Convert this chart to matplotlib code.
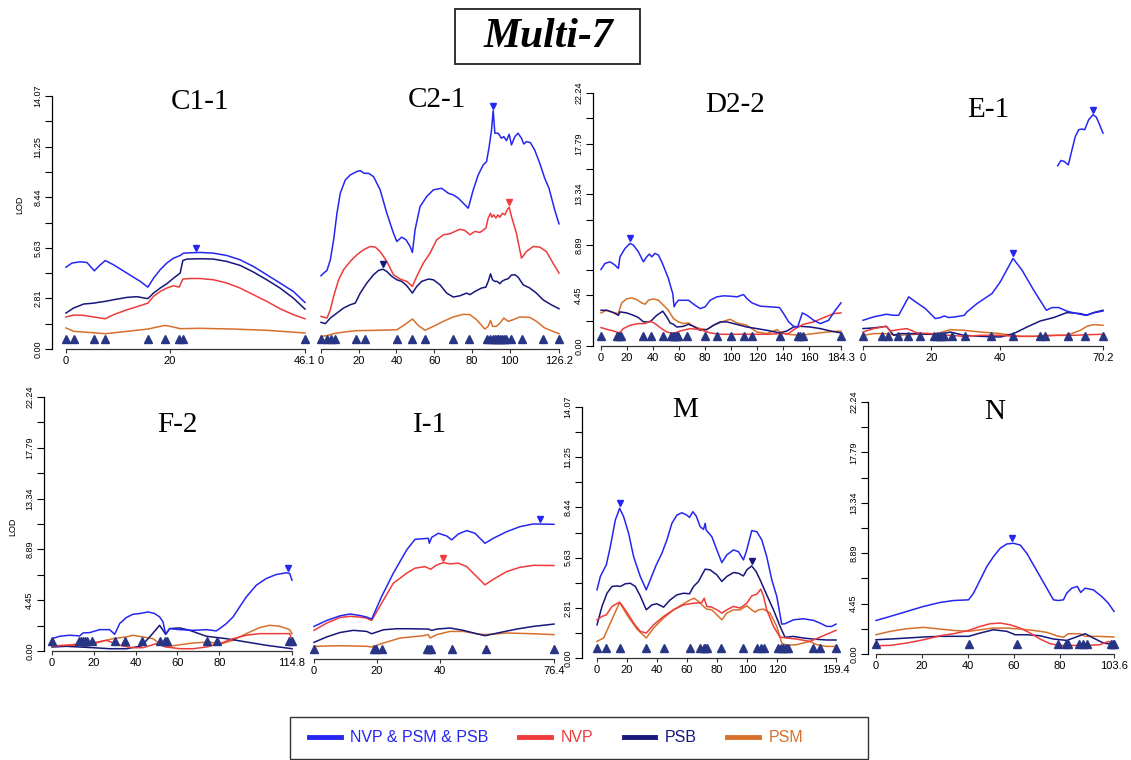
import numpy as np
import matplotlib.pyplot as plt
import matplotlib.transforms as mtransforms
from matplotlib.lines import Line2D
from matplotlib.patches import Rectangle

plt.rcParams["font.family"] = ["Liberation Sans", "DejaVu Sans"]

W, H = 1131, 760

# colours of the four models
colors = {"all": "#2626f2", "nvp": "#ef3b3b", "psb": "#16167c", "psm": "#d6702b"}
marker_color = "#283584"
legend_labels = {"all": "NVP & PSM & PSB", "nvp": "NVP", "psb": "PSB", "psm": "PSM"}

lod14_ticks = [0.00, 2.81, 5.63, 8.44, 11.25, 14.07]
lod22_ticks = [0.00, 4.45, 8.89, 13.34, 17.79, 22.24]

# ---------------- C1-1 ----------------
c11_all = [(0, 4.55), (1.16, 4.78), (2.76, 4.85), (4.05, 4.81), (5.46, 4.35), (6.61, 4.68),
           (7.58, 4.92), (9.18, 4.68), (11.75, 4.22), (14.32, 3.76), (15.79, 3.44), (16.89, 3.94),
           (18.17, 4.41), (19.45, 4.78), (20.74, 5.05), (22.02, 5.20), (22.66, 5.33), (23.95, 5.35),
           (25.87, 5.37), (28.44, 5.33), (31.01, 5.20), (33.58, 4.96), (36.15, 4.59), (38.72, 4.13),
           (41.28, 3.67), (43.85, 3.20), (46.1, 2.59)]
c11_nvp = [(0, 1.78), (1.48, 1.89), (3.40, 1.87), (5.33, 1.78), (7.58, 1.68), (9.18, 1.91),
           (11.75, 2.18), (14.32, 2.41), (15.79, 2.55), (16.89, 2.93), (18.17, 3.20), (19.45, 3.39),
           (20.74, 3.52), (21.83, 3.44), (22.54, 3.89), (23.95, 3.92), (25.87, 3.92), (28.44, 3.85),
           (31.01, 3.67), (33.58, 3.39), (36.15, 3.02), (38.72, 2.65), (41.28, 2.24), (43.85, 1.91),
           (46.1, 1.68)]
c11_psb = [(0, 2.00), (1.48, 2.28), (3.40, 2.50), (5.33, 2.55), (6.61, 2.61), (7.58, 2.65),
           (9.18, 2.74), (11.75, 2.87), (13.67, 2.91), (15.79, 2.80), (16.89, 3.11), (18.17, 3.39),
           (19.45, 3.63), (20.74, 3.94), (22.02, 4.22), (22.54, 4.92), (23.31, 5.00), (25.87, 5.02),
           (28.44, 5.00), (31.01, 4.87), (33.58, 4.65), (36.15, 4.28), (38.72, 3.85), (41.28, 3.39),
           (43.85, 2.83), (46.1, 2.22)]
c11_psm = [(0, 1.17), (1.48, 0.98), (4.05, 0.93), (7.58, 0.85), (11.75, 0.98), (15.79, 1.11),
           (17.53, 1.22), (19.13, 1.31), (20.74, 1.22), (22.02, 1.13), (25.87, 1.15), (32.29, 1.11),
           (38.72, 1.04), (46.1, 0.89)]
c11_markers = [0, 1.6, 5.39, 7.51, 15.79, 19.07, 21.89, 22.66, 46.1]
c11_peaks = [(25.1, "all")]

# ---------------- C2-1 ----------------
c21_all = [(0, 4.07), (1.41, 4.22), (3.17, 4.37), (4.94, 4.96), (6.70, 6.07), (8.46, 7.55),
           (10.22, 8.66), (12.87, 9.40), (15.51, 9.68), (19.04, 9.87), (20.80, 9.92), (22.91, 9.77),
           (25.20, 9.77), (27.85, 9.59), (31.37, 8.85), (34.90, 7.55), (38.42, 6.44), (40.19, 5.98),
           (42.83, 6.22), (45.12, 6.07), (47.24, 5.70), (48.47, 5.37), (49.88, 6.63), (52.53, 7.92),
           (56.05, 8.48), (59.58, 8.85), (63.98, 8.94), (67.51, 8.66), (70.15, 8.57), (72.80, 8.39),
           (75.44, 8.11), (78.08, 7.83), (80.73, 8.85), (83.37, 9.68), (86.02, 10.24), (87.78, 10.42),
           (89.19, 11.26), (90.42, 12.18), (91.30, 13.26), (92.19, 12.00), (93.95, 12.00),
           (95.72, 11.72), (96.94, 11.81), (98.35, 11.59), (99.76, 11.94), (101.0, 11.35),
           (102.8, 11.81), (104.5, 12.00), (106.3, 11.72), (107.5, 11.40), (108.9, 11.53),
           (111.0, 11.48), (113.3, 11.07), (116.0, 10.33), (118.6, 9.50), (120.9, 8.94),
           (123.9, 7.74), (126.2, 6.96)]
c21_nvp = [(0, 1.81), (3.17, 1.72), (4.94, 2.18), (6.70, 2.93), (9.34, 3.85), (11.99, 4.41),
           (15.51, 4.87), (19.04, 5.24), (22.56, 5.52), (26.09, 5.70), (28.73, 5.67), (31.37, 5.42),
           (34.90, 4.87), (38.42, 4.13), (41.95, 3.89), (45.47, 3.76), (48.47, 3.48), (50.76, 4.04),
           (54.29, 4.78), (57.81, 5.33), (61.34, 6.07), (64.86, 6.35), (68.39, 6.41), (71.03, 6.54),
           (73.68, 6.66), (76.32, 6.59), (78.96, 6.35), (81.61, 6.54), (84.25, 6.48), (87.42, 6.72),
           (88.66, 7.28), (89.89, 7.55), (90.60, 7.33), (91.66, 7.46), (92.71, 7.28), (93.77, 7.46),
           (94.83, 7.33), (96.24, 7.55), (97.47, 7.46), (98.71, 7.74), (99.76, 7.89), (101.0, 7.37),
           (103.6, 6.44), (106.3, 5.05), (108.9, 5.42), (112.5, 5.70), (116.0, 5.67), (119.5, 5.42),
           (123.0, 4.78), (126.2, 4.22)]
c21_psb = [(0, 1.48), (2.29, 1.41), (4.94, 1.72), (8.46, 2.00), (11.99, 2.28), (15.51, 2.46),
           (18.15, 2.55), (20.80, 3.11), (24.32, 3.67), (27.85, 4.13), (30.49, 4.37), (32.78, 4.44),
           (34.90, 4.31), (37.54, 4.04), (40.19, 3.85), (42.83, 3.76), (45.47, 3.52), (48.47, 3.11),
           (50.76, 3.48), (53.41, 3.76), (56.93, 3.89), (59.58, 3.85), (63.10, 3.57), (66.63, 3.11),
           (70.15, 2.89), (73.68, 2.96), (77.20, 3.11), (78.96, 3.02), (81.61, 3.20), (85.13, 3.39),
           (87.42, 3.44), (88.66, 3.76), (89.89, 4.18), (90.95, 3.85), (92.19, 3.76), (93.42, 3.76),
           (94.83, 3.63), (95.89, 3.76), (97.47, 3.85), (99.23, 3.91), (101.0, 4.11), (102.8, 4.13),
           (104.5, 4.00), (107.2, 3.57), (110.7, 3.39), (114.2, 3.11), (117.7, 2.74), (122.1, 2.46),
           (126.2, 2.24)]
c21_psm = [(0, 0.70), (3.17, 0.74), (6.70, 0.85), (11.99, 0.94), (19.04, 1.02), (29.61, 1.04),
           (40.19, 1.07), (43.71, 1.30), (48.47, 1.67), (51.64, 1.30), (55.17, 1.04), (59.58, 1.26),
           (64.86, 1.54), (70.15, 1.78), (75.44, 1.93), (78.96, 1.91), (82.49, 1.63), (86.90, 1.11),
           (88.66, 1.26), (89.89, 1.59), (90.95, 1.26), (93.07, 1.26), (94.83, 1.44), (96.94, 1.72),
           (99.23, 1.54), (101.9, 1.63), (105.4, 1.78), (110.7, 1.76), (114.2, 1.54), (118.6, 1.17),
           (123.0, 0.98), (126.2, 0.85)]
c21_markers = [0, 3.17, 5.29, 7.23, 18.68, 23.09, 40.19, 48.12, 55.17, 69.80, 78.61, 87.78,
               89.54, 90.95, 92.19, 93.07, 93.95, 94.83, 95.72, 96.94, 98.35, 101.0, 106.8,
               117.7, 126.2]
c21_peaks = [(91.3, "all"), (99.76, "nvp"), (32.78, "psb")]

# ---------------- D2-2 ----------------
d22_all = [(0, 6.73), (3.08, 7.26), (6.92, 7.40), (10.77, 7.11), (13.33, 6.82), (14.61, 7.84),
           (18.46, 8.58), (22.30, 9.02), (24.86, 8.87), (28.71, 8.28), (32.55, 7.40), (35.12, 7.84),
           (37.17, 8.08), (38.96, 7.84), (41.53, 8.14), (44.09, 7.99), (46.65, 7.40), (49.22, 6.67),
           (51.78, 5.93), (53.57, 5.20), (55.11, 4.61), (56.14, 3.44), (57.42, 3.73), (59.47, 4.02),
           (63.31, 4.02), (67.16, 4.02), (72.28, 3.58), (76.13, 3.29), (79.97, 3.44), (83.82, 4.02),
           (88.95, 4.32), (94.07, 4.41), (99.20, 4.38), (104.3, 4.32), (109.5, 4.52), (112.0, 4.17),
           (115.9, 3.79), (122.3, 3.50), (130.0, 3.44), (137.1, 3.38), (140.2, 2.85), (144.1, 2.12),
           (147.9, 1.73), (151.0, 1.67), (154.6, 2.91), (158.2, 2.70), (163.3, 2.26), (168.4, 1.97),
           (174.8, 2.26), (179.9, 3.14), (184.3, 3.79)]
d22_nvp = [(0, 1.62), (4.36, 1.47), (9.48, 1.32), (14.10, 1.15), (17.17, 1.53), (22.30, 1.82),
           (28.71, 1.97), (33.84, 1.97), (37.68, 2.20), (41.53, 1.97), (45.37, 1.62), (50.50, 1.23),
           (55.62, 1.09), (60.75, 1.32), (68.44, 1.53), (76.13, 1.44), (83.82, 1.15), (91.51, 1.03),
           (101.8, 1.03), (112.0, 1.03), (127.4, 1.03), (137.6, 1.09), (144.1, 1.09), (149.2, 1.53),
           (155.6, 1.91), (163.3, 2.12), (171.0, 2.50), (178.7, 2.85), (184.3, 2.91)]
d22_psb = [(0, 3.14), (4.36, 3.14), (9.48, 2.94), (13.33, 2.70), (14.61, 3.00), (19.74, 2.91),
           (24.86, 2.70), (28.71, 2.50), (32.55, 2.12), (37.68, 2.12), (42.81, 2.70), (47.42, 3.06),
           (50.50, 2.56), (53.06, 2.03), (55.62, 1.91), (58.19, 1.67), (63.31, 1.73), (67.16, 1.91),
           (71.00, 1.73), (76.13, 1.38), (81.26, 1.44), (86.39, 1.82), (91.51, 2.12), (96.64, 2.12),
           (101.8, 1.97), (106.9, 1.82), (112.0, 1.67), (119.7, 1.53), (127.4, 1.38), (137.1, 1.15),
           (142.8, 1.32), (147.9, 1.67), (153.0, 1.73), (160.7, 1.67), (168.4, 1.53), (176.1, 1.32),
           (184.3, 1.15)]
d22_psm = [(0, 2.91), (4.36, 3.14), (9.48, 2.94), (13.33, 2.85), (15.89, 3.79), (19.74, 4.14),
           (23.58, 4.23), (27.43, 4.08), (31.27, 3.79), (33.84, 3.67), (36.40, 4.02), (40.24, 4.14),
           (44.09, 4.02), (47.94, 3.58), (51.78, 3.14), (55.62, 2.41), (59.47, 2.12), (63.31, 1.97),
           (67.16, 2.03), (71.00, 1.73), (76.13, 1.53), (81.26, 1.44), (86.39, 1.82), (94.07, 2.17),
           (99.20, 2.35), (104.3, 2.03), (112.0, 1.82), (119.7, 1.23), (127.4, 1.09), (135.1, 1.44),
           (137.6, 1.23), (142.8, 1.03), (153.1, 0.94), (163.3, 1.09), (173.6, 1.23), (184.3, 1.32)]
d22_markers = [0, 12.56, 13.84, 15.12, 32.55, 38.19, 47.42, 53.83, 55.62, 56.91, 58.19, 59.47,
               66.39, 80.23, 89.46, 99.71, 109.5, 115.9, 137.6, 151.0, 153.0, 155.1, 184.3]
d22_peaks = [(22.3, "all")]

# ---------------- E-1 ----------------
e1_all = [(0, 2.26), (3.12, 2.56), (6.83, 2.79), (8.97, 2.70), (10.43, 2.70), (13.36, 4.32),
          (15.80, 3.79), (18.23, 3.29), (21.16, 2.41), (22.62, 2.50), (23.79, 2.64), (25.06, 2.50),
          (27.01, 2.56), (29.64, 2.70), (30.42, 3.00), (33.35, 3.73), (37.73, 4.61), (40.17, 5.64),
          (43.88, 7.70), (46.51, 6.67), (49.92, 4.91), (53.63, 3.14), (55.28, 3.38), (57.23, 3.38),
          (59.67, 3.06), (62.60, 2.85), (65.03, 2.70), (67.47, 2.91), (70.2, 3.08)]
e1_all_high = [(56.94, 15.84), (57.92, 16.31), (58.89, 16.22), (60.06, 15.92), (61.13, 17.25),
               (62.11, 18.42), (63.08, 19.01), (64.06, 19.07), (64.84, 19.01), (66.01, 19.89),
               (67.28, 20.33), (68.25, 20.12), (69.22, 19.45), (70.2, 18.71)]
e1_nvp = [(0, 1.23), (3.12, 1.53), (6.83, 1.73), (8.00, 1.32), (10.43, 1.44), (12.87, 1.53),
          (15.80, 1.15), (19.70, 1.09), (22.62, 0.94), (25.55, 0.94), (29.45, 0.85), (34.32, 0.94),
          (40.17, 0.94), (44.07, 0.85), (47.97, 0.85), (51.87, 0.85), (56.74, 0.94), (61.62, 0.94),
          (66.49, 1.00), (70.2, 1.03)]
e1_psb = [(0, 1.53), (3.12, 1.59), (6.83, 1.73), (8.97, 0.94), (10.92, 1.09), (14.82, 1.09),
          (18.72, 1.03), (22.62, 1.03), (25.55, 1.23), (29.45, 0.94), (34.32, 0.85), (40.17, 0.79),
          (44.07, 1.09), (47.97, 1.67), (51.87, 2.20), (55.77, 2.50), (59.67, 2.94), (63.57, 2.85),
          (65.52, 2.70), (67.47, 2.94), (70.2, 3.14)]
e1_psm = [(0, 0.94), (3.12, 1.09), (6.83, 1.09), (9.95, 0.94), (15.80, 1.03), (21.65, 1.09),
          (25.55, 1.44), (29.45, 1.38), (34.32, 1.23), (40.17, 1.09), (46.02, 0.85), (49.92, 0.85),
          (53.82, 0.94), (59.67, 0.94), (63.57, 1.38), (65.52, 1.73), (67.47, 1.88), (70.2, 1.82)]
e1_markers = [0, 5.56, 7.31, 10.14, 13.16, 16.77, 20.87, 21.65, 22.43, 23.21, 23.79, 26.03,
              29.74, 37.44, 43.88, 51.87, 53.33, 59.96, 64.84, 70.2]
e1_peaks = [(43.88, "all"), (67.28, "all")]

# ---------------- F-2 ----------------
f2_all = [(0, 1.08), (3.67, 1.29), (8.45, 1.38), (13.23, 1.32), (14.83, 1.58), (18.02, 1.61),
          (22.80, 1.87), (27.58, 1.87), (29.97, 1.46), (32.37, 2.40), (35.55, 2.93), (38.74, 3.22),
          (41.93, 3.28), (45.92, 3.42), (49.11, 3.28), (51.50, 2.98), (53.09, 2.55), (54.37, 1.46),
          (56.28, 1.96), (61.07, 1.87), (67.44, 1.81), (73.82, 1.87), (78.60, 1.76), (80.20, 1.96),
          (83.39, 2.40), (86.58, 2.98), (89.76, 3.86), (92.95, 4.74), (97.74, 5.76), (102.5, 6.35),
          (107.3, 6.70), (112.1, 6.85), (113.7, 6.79), (114.8, 6.20)]
f2_nvp = [(0, 0.44), (6.86, 0.50), (13.23, 0.50), (18.02, 0.64), (25.99, 0.94), (32.37, 0.50),
          (38.74, 0.29), (43.52, 0.29), (49.91, 0.64), (54.69, 0.35), (61.07, 0.20), (67.44, 0.20),
          (73.82, 0.35), (80.20, 0.64), (86.58, 1.08), (92.95, 1.38), (99.33, 1.52), (105.7, 1.52),
          (113.7, 1.52), (114.8, 0.99)]
f2_psb = [(0, 0.35), (6.86, 0.41), (13.23, 0.35), (19.61, 0.29), (27.58, 0.20), (35.55, 0.20),
          (42.73, 0.44), (46.72, 1.23), (51.50, 2.25), (54.37, 1.46), (56.28, 1.96), (61.07, 2.02),
          (65.85, 1.81), (73.82, 1.29), (83.39, 1.08), (92.95, 0.79), (102.5, 0.50), (114.8, 0.20)]
f2_psm = [(0, 0.44), (6.86, 0.50), (13.23, 0.64), (16.10, 0.35), (18.02, 0.50), (22.80, 0.79),
          (29.18, 1.08), (35.55, 1.23), (38.74, 1.38), (43.52, 1.23), (48.30, 1.08), (51.50, 0.64),
          (54.37, 0.35), (59.48, 0.50), (67.44, 0.70), (75.41, 0.79), (80.20, 0.59), (86.58, 0.94),
          (92.95, 1.52), (99.33, 2.05), (104.1, 2.25), (108.9, 2.17), (113.7, 1.87), (114.8, 1.52)]
f2_markers = [0, 12.76, 14.03, 14.83, 15.94, 16.74, 19.29, 29.97, 34.92, 43.21, 51.50, 54.21,
              55.17, 74.14, 78.92, 113.4, 114.8]
f2_peaks = [(113.0, "all")]

# ---------------- I-1 ----------------
i1_all = [(0, 1.82), (4.03, 2.15), (8.28, 2.41), (11.46, 2.51), (14.64, 2.43), (16.77, 2.34),
          (18.36, 2.23), (21.54, 3.49), (25.25, 4.79), (29.50, 6.09), (32.15, 6.68), (36.40, 6.74),
          (36.71, 6.46), (37.46, 6.79), (39.58, 7.02), (42.23, 6.87), (43.82, 6.65), (45.94, 6.98),
          (48.60, 7.17), (51.25, 7.02), (54.43, 6.46), (57.09, 6.74), (61.33, 7.11), (65.58, 7.39),
          (69.82, 7.54), (76.4, 7.52)]
i1_nvp = [(0, 1.60), (4.03, 2.00), (8.28, 2.32), (11.46, 2.38), (14.64, 2.34), (16.77, 2.28),
          (18.36, 2.15), (21.54, 3.12), (25.25, 4.23), (29.50, 4.79), (32.15, 5.07), (35.34, 5.16),
          (37.14, 5.01), (39.05, 5.25), (41.17, 5.38), (43.29, 5.31), (45.94, 5.35), (48.60, 5.16),
          (51.78, 4.60), (54.43, 4.14), (57.09, 4.45), (61.33, 4.88), (65.58, 5.12), (69.82, 5.23),
          (76.4, 5.22)]
i1_psb = [(0, 0.93), (4.03, 1.23), (8.28, 1.48), (12.52, 1.60), (16.77, 1.54), (18.36, 1.41),
          (22.07, 1.63), (26.31, 1.69), (30.56, 1.69), (36.40, 1.67), (37.46, 1.60), (39.05, 1.67),
          (43.29, 1.73), (47.54, 1.60), (51.78, 1.41), (54.43, 1.30), (59.21, 1.48), (64.51, 1.67),
          (69.82, 1.82), (76.4, 1.95)]
i1_psm = [(0, 0.71), (8.28, 0.74), (16.77, 0.71), (18.36, 0.67), (22.07, 0.89), (27.38, 1.17),
          (34.81, 1.30), (36.40, 1.36), (36.93, 1.17), (39.05, 1.36), (43.29, 1.54), (47.54, 1.54),
          (51.78, 1.41), (54.43, 1.36), (61.33, 1.45), (69.82, 1.41), (76.4, 1.36)]
i1_markers = [0, 19.10, 19.74, 21.54, 36.08, 36.71, 37.14, 43.82, 54.65, 76.4]
i1_peaks = [(40.96, "nvp"), (71.94, "all")]

# ---------------- M ----------------
m_all = [(0, 3.82), (2.22, 4.57), (4.44, 4.94), (6.22, 5.22), (8.88, 6.24), (12.21, 7.73),
         (15.10, 8.39), (17.76, 7.92), (21.09, 6.99), (24.42, 5.68), (28.86, 4.57), (32.86, 3.82),
         (35.52, 4.38), (39.52, 5.22), (43.29, 5.87), (46.62, 6.62), (49.95, 7.55), (53.28, 8.01),
         (56.61, 8.14), (59.94, 8.01), (61.72, 7.88), (63.94, 8.20), (66.16, 7.96), (68.82, 7.36),
         (71.04, 7.21), (72.15, 7.55), (72.82, 7.17), (76.59, 6.80), (79.92, 6.06), (83.25, 5.35),
         (86.58, 5.78), (91.02, 6.06), (94.35, 5.96), (97.68, 5.50), (99.90, 6.06), (103.2, 7.14),
         (106.6, 7.08), (109.9, 6.62), (113.2, 5.68), (116.6, 4.38), (119.9, 3.45), (123.2, 1.90),
         (125.4, 1.92), (131.0, 2.14), (137.6, 2.20), (144.3, 2.11), (148.7, 1.96), (153.2, 1.77),
         (156.5, 1.77), (159.4, 1.90)]
m_nvp = [(0, 2.14), (3.33, 2.33), (6.22, 2.42), (9.99, 2.89), (15.10, 3.13), (18.87, 2.70),
         (24.42, 1.96), (28.86, 1.49), (32.86, 1.40), (37.74, 1.86), (44.40, 2.33), (51.06, 2.70),
         (57.72, 2.98), (64.38, 3.07), (69.93, 3.11), (71.49, 3.35), (73.26, 2.89), (76.59, 2.85),
         (79.92, 2.70), (83.25, 2.52), (86.58, 2.70), (91.02, 2.89), (95.46, 2.80), (99.90, 3.07),
         (103.2, 3.48), (106.6, 3.58), (109.2, 3.86), (111.0, 3.48), (113.2, 2.70), (117.7, 1.77),
         (122.1, 1.17), (126.5, 1.12), (133.2, 1.06), (142.1, 0.93), (151.0, 1.25), (159.4, 1.55)]
m_psb = [(0, 1.86), (3.33, 2.89), (6.66, 3.63), (9.99, 4.01), (13.32, 4.04), (15.54, 4.01),
         (18.87, 4.16), (22.20, 4.19), (25.53, 4.01), (28.86, 3.48), (32.86, 2.70), (36.63, 2.98),
         (39.96, 3.04), (44.40, 2.85), (48.84, 3.26), (53.28, 3.54), (57.72, 3.63), (61.72, 3.60),
         (64.38, 4.01), (67.71, 4.29), (70.60, 4.75), (72.15, 4.98), (75.48, 4.94), (79.92, 4.66),
         (83.25, 4.29), (86.58, 4.57), (91.02, 4.79), (94.35, 4.75), (97.68, 4.60), (99.90, 4.94),
         (103.2, 5.16), (106.1, 4.85), (108.8, 4.38), (113.2, 3.54), (117.7, 2.70), (122.1, 1.77),
         (125.4, 1.16), (131.0, 1.21), (137.6, 1.12), (144.3, 1.06), (153.2, 1.01), (159.4, 1.01)]
m_psm = [(0, 0.93), (4.44, 1.12), (8.88, 1.96), (15.10, 3.11), (19.98, 2.42), (26.64, 1.62),
         (32.86, 1.12), (37.74, 1.68), (44.40, 2.24), (51.06, 2.70), (57.72, 3.04), (62.16, 3.26),
         (64.82, 3.35), (67.71, 3.17), (71.04, 2.89), (73.26, 2.74), (76.59, 2.70), (79.92, 2.42),
         (83.25, 2.14), (86.58, 2.52), (91.02, 2.70), (95.46, 2.70), (99.90, 2.93), (103.2, 2.70),
         (105.5, 2.57), (107.7, 2.70), (111.0, 2.74), (115.4, 2.52), (119.9, 1.77), (123.2, 0.84),
         (126.5, 0.71), (133.2, 0.75), (142.1, 0.93), (146.5, 0.75), (153.2, 0.65), (159.4, 0.65)]
m_markers = [0, 5.99, 15.10, 32.86, 44.40, 61.72, 68.82, 71.04, 72.15, 73.26, 82.59, 97.68,
             107.0, 109.2, 111.4, 121.0, 122.5, 124.3, 126.1, 127.7, 144.3, 148.7, 159.4]
m_peaks = [(15.1, "all"), (103.2, "psb")]

# ---------------- N ----------------
n_all = [(0, 2.96), (6.23, 3.32), (13.48, 3.76), (20.72, 4.20), (27.97, 4.55), (33.76, 4.72),
         (40.28, 4.78), (42.46, 5.37), (45.35, 6.54), (48.25, 7.72), (51.15, 8.60), (54.05, 9.33),
         (56.95, 9.71), (59.84, 9.77), (62.74, 9.62), (65.64, 8.89), (68.54, 7.86), (71.44, 6.84),
         (74.33, 5.81), (77.23, 4.78), (79.40, 4.72), (81.58, 4.78), (83.03, 5.37), (85.20, 5.81),
         (87.66, 5.96), (89.11, 5.43), (91.00, 5.81), (94.62, 5.66), (98.24, 5.08), (101.1, 4.49),
         (103.6, 3.76)]
n_nvp = [(0, 0.73), (6.23, 0.76), (13.48, 0.97), (20.72, 1.26), (27.97, 1.61), (33.76, 1.79),
         (40.28, 2.08), (45.35, 2.44), (49.69, 2.67), (54.05, 2.73), (58.39, 2.58), (62.74, 2.29),
         (67.09, 1.85), (71.44, 1.32), (75.78, 0.91), (80.13, 0.76), (85.93, 0.76), (91.72, 0.76),
         (97.52, 0.82), (101.1, 1.11), (103.6, 0.82)]
n_psb = [(0, 1.26), (6.23, 1.32), (13.48, 1.41), (20.72, 1.50), (27.97, 1.56), (33.76, 1.56),
         (40.28, 1.56), (45.35, 1.85), (51.15, 2.14), (56.95, 2.00), (60.58, 1.70), (65.64, 1.70),
         (71.44, 1.61), (77.23, 1.32), (83.03, 1.20), (85.93, 1.41), (91.00, 1.79), (94.62, 1.41),
         (98.97, 0.97), (103.6, 0.82)]
n_psm = [(0, 1.70), (6.23, 2.00), (13.48, 2.23), (20.72, 2.35), (27.97, 2.20), (33.76, 2.08),
         (40.28, 2.00), (45.35, 2.14), (51.15, 2.29), (56.95, 2.29), (62.74, 2.20), (68.54, 2.08),
         (74.33, 1.91), (78.68, 1.61), (81.58, 1.47), (83.75, 1.79), (88.82, 1.79), (91.00, 1.56),
         (96.07, 1.56), (103.6, 1.50)]
n_markers = [0, 40.28, 61.29, 79.40, 82.74, 83.75, 88.53, 90.27, 91.72, 102.2, 103.3, 103.6]
n_peaks = [(59.4, "all")]

# x ticks of every linkage group
c11_xticks = [0, 20, 46.1]
c21_xticks = [0, 20, 40, 60, 80, 100, 126.2]
d22_xticks = [0, 20, 40, 60, 80, 100, 120, 140, 160, 184.3]
e1_xticks = [0, 20, 40, 70.2]
f2_xticks = [0, 20, 40, 60, 80, 114.8]
i1_xticks = [0, 20, 40, 76.4]
m_xticks = [0, 20, 40, 60, 80, 100, 120, 159.4]
n_xticks = [0, 20, 40, 60, 80, 103.6]

# panel: name, series, markers, peaks, xticks, y scale, pixel box (l, r, top, bottom),
#        y-axis offset in px (None = no axis), title position in px
panels = [
    ("C1-1", {"all": [c11_all], "nvp": [c11_nvp], "psb": [c11_psb], "psm": [c11_psm]},
     c11_markers, c11_peaks, c11_xticks, lod14_ticks, (66, 305, 96, 349), 14, (200, 102)),
    ("C2-1", {"all": [c21_all], "nvp": [c21_nvp], "psb": [c21_psb], "psm": [c21_psm]},
     c21_markers, c21_peaks, c21_xticks, lod14_ticks, (321, 559, 96, 349), None, (437, 100)),
    ("D2-2", {"all": [d22_all], "nvp": [d22_nvp], "psb": [d22_psb], "psm": [d22_psm]},
     d22_markers, d22_peaks, d22_xticks, lod22_ticks, (601, 841, 93, 346), 8, (735, 105)),
    ("E-1", {"all": [e1_all, e1_all_high], "nvp": [e1_nvp], "psb": [e1_psb], "psm": [e1_psm]},
     e1_markers, e1_peaks, e1_xticks, lod22_ticks, (863, 1103, 93, 346), None, (988, 110)),
    ("F-2", {"all": [f2_all], "nvp": [f2_nvp], "psb": [f2_psb], "psm": [f2_psm]},
     f2_markers, f2_peaks, f2_xticks, lod22_ticks, (52, 292, 397, 651), 8, (177, 425)),
    ("I-1", {"all": [i1_all], "nvp": [i1_nvp], "psb": [i1_psb], "psm": [i1_psm]},
     i1_markers, i1_peaks, i1_xticks, lod14_ticks, (314, 554, 407, 659), None, (430, 425)),
    ("M", {"all": [m_all], "nvp": [m_nvp], "psb": [m_psb], "psm": [m_psm]},
     m_markers, m_peaks, m_xticks, lod14_ticks, (597, 836, 407, 658), 15, (685, 410)),
    ("N", {"all": [n_all], "nvp": [n_nvp], "psb": [n_psb], "psm": [n_psm]},
     n_markers, n_peaks, n_xticks, lod22_ticks, (876, 1114, 402, 654), 8, (995, 412)),
]

fig = plt.figure(figsize=(W / 100, H / 100), dpi=100)
peak_shift = mtransforms.ScaledTranslation(0, 5 / 100, fig.dpi_scale_trans)

for name, series, markers, peaks, xticks, yticks, box, yoff, tpos in panels:
    l, r, t, b = box
    ax = fig.add_axes([l / W, 1 - b / H, (r - l) / W, (b - t) / H])
    ax.patch.set_alpha(0)
    ax.set_xlim(0, xticks[-1])
    ax.set_ylim(0, yticks[-1])

    for key in ["psm", "psb", "nvp", "all"]:
        for seg in series[key]:
            arr = np.array(seg)
            ax.plot(arr[:, 0], arr[:, 1], color=colors[key], lw=1.1, clip_on=False)

    ax.plot(markers, np.full(len(markers), 0.04), "^", color=marker_color, ms=5.5,
            transform=ax.get_xaxis_transform(), clip_on=False)

    for px, key in peaks:
        py = max(np.interp(px, *np.array(seg).T) for seg in series[key]
                 if seg[0][0] <= px <= seg[-1][0])
        ax.plot(px, py, "v", color=colors[key], ms=5,
                transform=ax.transData + peak_shift, clip_on=False)

    for s in ["top", "right"]:
        ax.spines[s].set_visible(False)
    ax.spines["bottom"].set_linewidth(0.9)
    ax.spines["bottom"].set_color("#333333")
    ax.set_xticks(xticks)
    ax.set_xticklabels([f"{v:g}" for v in xticks], fontsize=8)
    ax.tick_params(axis="x", length=3, width=0.8, pad=2, color="#333333")

    if yoff is None:
        ax.spines["left"].set_visible(False)
        ax.tick_params(axis="y", which="both", left=False, labelleft=False)
    else:
        ax.spines["left"].set_position(("outward", yoff * 0.72))
        ax.spines["left"].set_linewidth(0.9)
        ax.set_yticks(yticks)
        ax.set_yticklabels([f"{v:.2f}" for v in yticks], rotation=90, va="center", fontsize=6.5)
        mids = [(a + c) / 2 for a, c in zip(yticks[:-1], yticks[1:])]
        ax.set_yticks(mids, minor=True)
        ax.tick_params(axis="y", which="both", length=5, width=0.8, pad=2)

    fig.text(tpos[0] / W, 1 - tpos[1] / H, name, ha="center", va="center",
             family="Liberation Serif", fontsize=21)

fig.text(20 / W, 1 - 205 / H, "LOD", rotation=90, ha="center", va="center", fontsize=6.5)
fig.text(13 / W, 1 - 527 / H, "LOD", rotation=90, ha="center", va="center", fontsize=6.5)

# title box
fig.add_artist(Rectangle((455 / W, 1 - 64 / H), 185 / W, 55 / H, transform=fig.transFigure,
                         fill=False, lw=1.3, ec="#222222"))
fig.text(548 / W, 1 - 37 / H, "Multi-7", ha="center", va="center", family="Liberation Serif",
         fontsize=30, fontweight="bold", fontstyle="italic")

# legend: frame drawn separately, entries left aligned inside it
fig.add_artist(Rectangle((290 / W, 1 - 759 / H), 578 / W, 42 / H, transform=fig.transFigure,
                         fill=False, lw=1.0, ec="#333333"))
keys = ["all", "nvp", "psb", "psm"]
handles = [Line2D([], [], color=colors[k], lw=3.5) for k in keys]
fig.legend(handles, [legend_labels[k] for k in keys], loc="center left",
           bbox_to_anchor=(296 / W, 1 - 738 / H), ncol=4, fontsize=11.5,
           frameon=False, handlelength=2.0, handletextpad=0.6, columnspacing=1.9,
           borderpad=0.3, labelcolor=[colors[k] for k in keys])

fig.savefig("out.png", dpi=100)
